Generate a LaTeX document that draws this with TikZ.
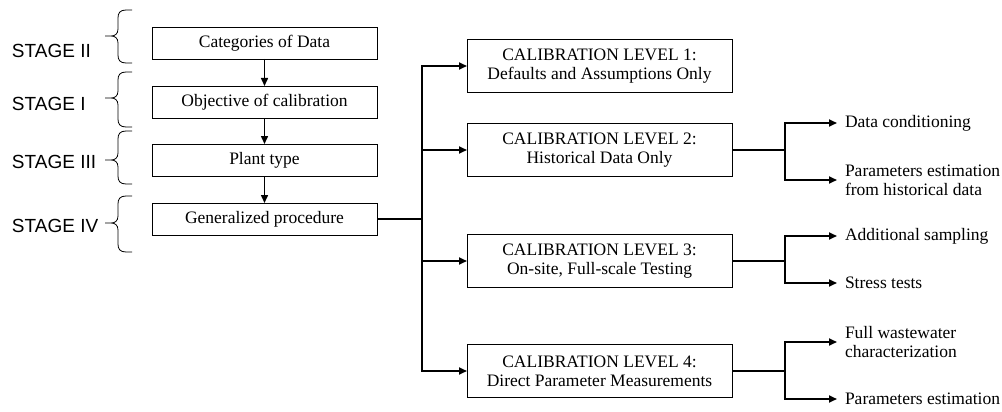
\documentclass[tikz,border=0pt]{standalone}
\usepackage{fontspec}
\setmainfont{Liberation Serif}
\newfontfamily\stagefont{Liberation Sans}
\usetikzlibrary{arrows.meta}
\begin{document}
\begin{tikzpicture}[x=1pt,y=-1pt,
  every node/.style={inner sep=0pt, outer sep=0pt},
  boxtext/.style={font=\fontsize{17.5}{19}\selectfont},
  leftbox/.style={draw, line width=0.8pt, boxtext, minimum width=225pt, minimum height=32pt, align=center},
  levelbox/.style={draw, line width=0.8pt, boxtext, minimum width=265pt, minimum height=53pt, align=center},
  subtext/.style={boxtext, anchor=west, align=left},
  stagelabel/.style={font=\stagefont\fontsize{19}{21}\selectfont, anchor=west},
  stagebrace/.style={line width=0.8pt},
  conn/.style={line width=1.9pt},
  arr/.style={line width=1.9pt, -{Triangle[length=8pt,width=7pt]}}
]
\useasboundingbox (0,0) rectangle (1002,412);

% curly brace: top end, tip height, bottom end
\newcommand{\stagebraceat}[3]{%
  \draw[stagebrace] (132,#1) -- (126,#1)
    .. controls (120,#1) and (118,#1+3) .. (118,#1+8)
    -- (118,#2-7)
    .. controls (118,#2-2) and (115,#2) .. (111,#2) -- (105,#2)
    -- (111,#2)
    .. controls (115,#2) and (118,#2+2) .. (118,#2+7)
    -- (118,#3-8)
    .. controls (118,#3-3) and (120,#3) .. (126,#3) -- (132,#3);}

% stage labels and braces
\node[stagelabel] (s2) at (12,50.5) {STAGE II};
\node[stagelabel] (s1) at (12,103.5) {STAGE I};
\node[stagelabel] (s3) at (12,161.5) {STAGE III};
\node[stagelabel] (s4) at (12,226) {STAGE IV};
\stagebraceat{10}{36}{63}
\stagebraceat{72}{98}{127}
\stagebraceat{131}{160}{184}
\stagebraceat{196}{223}{252}

% left column
\node[leftbox] (cat) at (264.5,43) {Categories of Data};
\node[leftbox] (obj) at (264.5,102) {Objective of calibration};
\node[leftbox] (plant) at (264.5,160) {Plant type};
\node[leftbox] (gen) at (264.5,219) {Generalized procedure};
\draw[arr, line width=1.5pt] (cat) -- (obj);
\draw[arr, line width=1.5pt] (obj) -- (plant);
\draw[arr, line width=1.5pt] (plant) -- (gen);

% calibration levels
\node[levelbox] (l1) at (599.5,66) {CALIBRATION LEVEL 1:\\Defaults and Assumptions Only};
\node[levelbox] (l2) at (599.5,150) {CALIBRATION LEVEL 2:\\Historical Data Only};
\node[levelbox] (l3) at (599.5,261) {CALIBRATION LEVEL 3:\\On-site, Full-scale Testing};
\node[levelbox] (l4) at (599.5,371) {CALIBRATION LEVEL 4:\\Direct Parameter Measurements};

\coordinate (trunk) at (422,219);
\draw[conn] (gen.east) -- (trunk);
\draw[arr] (trunk) |- (l1.west);
\draw[arr] (trunk) |- (l2.west);
\draw[arr] (trunk) |- (l3.west);
\draw[arr] (trunk) |- (l4.west);

% sub-steps
\node[subtext] (dc) at (845,123) {Data conditioning};
\node[subtext] (pe1) at (845,180) {Parameters estimation\\from historical data};
\node[subtext] (as) at (845,236) {Additional sampling};
\node[subtext] (st) at (845,283) {Stress tests};
\node[subtext] (fw) at (845,342) {Full wastewater\\characterization};
\node[subtext] (pe2) at (845,399) {Parameters estimation};

\coordinate (b2) at (785,150);
\coordinate (b3) at (785,261);
\coordinate (b4) at (785,371);
\draw[conn] (l2.east) -- (b2);
\draw[conn] (l3.east) -- (b3);
\draw[conn] (l4.east) -- (b4);
\draw[arr, shorten >=8pt] (b2) |- (dc.west);
\draw[arr, shorten >=8pt] (b2) |- (pe1.west);
\draw[arr, shorten >=8pt] (b3) |- (as.west);
\draw[arr, shorten >=8pt] (b3) |- (st.west);
\draw[arr, shorten >=8pt] (b4) |- (fw.west);
\draw[arr, shorten >=8pt] (b4) |- (pe2.west);
\end{tikzpicture}
\end{document}
